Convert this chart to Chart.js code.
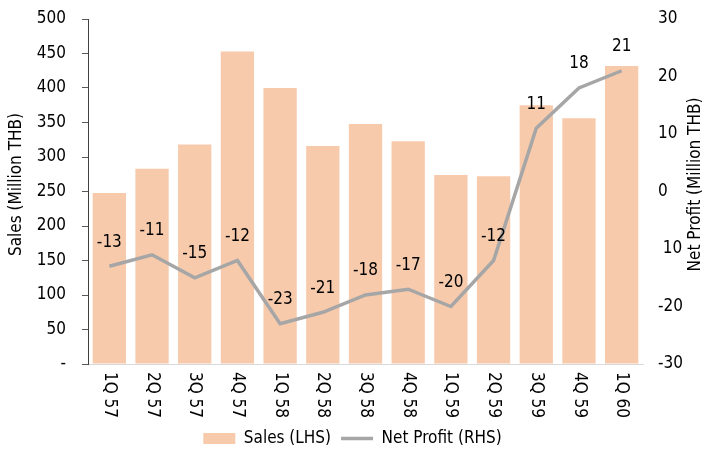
<!DOCTYPE html>
<html>
<head>
<meta charset="utf-8">
<script src="https://cdn.jsdelivr.net/npm/chart.js@4/dist/chart.umd.min.js"></script>
<style>
  html, body { margin: 0; padding: 0; background: #fff; }
  #wrap { width: 705px; height: 461px; }
</style>
</head>
<body>
<div id="wrap"><canvas id="chart"></canvas></div>
<script>
const quarters = ['1Q 57', '2Q 57', '3Q 57', '4Q 57', '1Q 58', '2Q 58', '3Q 58', '4Q 58', '1Q 59', '2Q 59', '3Q 59', '4Q 59', '1Q 60'];
const sales = [248, 283, 318, 453, 400, 316, 348, 323, 274, 272, 375, 356, 432];
const netProfit = [-13, -11, -15, -12, -23, -21, -18, -17, -20, -12, 11, 18, 21];
const salesTicks = [0, 50, 100, 150, 200, 250, 300, 350, 400, 450, 500];
const profitTicks = [-30, -20, -10, 0, 10, 20, 30];
const profitTickText = ['-30', '-20', ' 10', '0', '10', '20', '30'];

const fontFamily = '"DejaVu Sans Condensed", "DejaVu Sans", sans-serif';
const fontSize = 17;
Chart.defaults.font.family = fontFamily;
Chart.defaults.font.size = fontSize;
Chart.defaults.color = '#000';

// x labels and the axis titles are drawn by hand: chart.js rotates them the other way
const extraText = {
    id: 'extraText',
    afterDraw(chart) {
        const ctx = chart.ctx;
        const x = chart.scales.x;
        const area = chart.chartArea;
        ctx.save();
        ctx.font = fontSize + 'px ' + fontFamily;
        ctx.fillStyle = '#000';
        ctx.textAlign = 'left';
        ctx.textBaseline = 'middle';
        quarters.forEach((q, i) => {
            ctx.save();
            ctx.translate(x.getPixelForTick(i), x.top + 8);
            ctx.rotate(Math.PI / 2);
            ctx.fillText(q, 0, 0);
            ctx.restore();
        });

        const midY = (area.top + area.bottom) / 2 - 7;
        ctx.textAlign = 'center';
        ctx.save();
        ctx.translate(17, midY);
        ctx.rotate(-Math.PI / 2);
        ctx.fillText('Sales (Million THB)', 0, 0);
        ctx.restore();
        ctx.save();
        ctx.translate(chart.width - 9, midY);
        ctx.rotate(-Math.PI / 2);
        ctx.fillText('Net Profit (Million THB)', 0, 0);
        ctx.restore();
        ctx.restore();
    }
};

const profitLabels = {
    id: 'profitLabels',
    afterDatasetsDraw(chart) {
        const ctx = chart.ctx;
        const meta = chart.getDatasetMeta(1);
        ctx.save();
        ctx.font = fontSize + 'px ' + fontFamily;
        ctx.fillStyle = '#000';
        ctx.textAlign = 'center';
        ctx.textBaseline = 'middle';
        meta.data.forEach((pt, i) => {
            ctx.fillText(String(netProfit[i]), pt.x, pt.y - 24);
        });
        ctx.restore();
    }
};

// tick padding also pads the top of vertical axes, drop that
const fitSide = w => scale => {
    scale.width = w;
    scale.paddingTop = 0;
    scale.paddingBottom = 0;
};

new Chart(document.getElementById('chart'), {
    type: 'bar',
    data: {
        labels: quarters,
        datasets: [
            {
                type: 'bar',
                label: 'Sales (LHS)',
                data: sales,
                backgroundColor: '#F7CAAC',
                yAxisID: 'y',
                barPercentage: 0.78,
                categoryPercentage: 1,
                pointStyle: 'rect',
                order: 2
            },
            {
                type: 'line',
                label: 'Net Profit (RHS)',
                data: netProfit,
                borderColor: '#A6A6A6',
                backgroundColor: '#A6A6A6',
                borderWidth: 3.5,
                pointRadius: 0,
                tension: 0,
                yAxisID: 'y1',
                pointStyle: 'line',
                order: 1
            }
        ]
    },
    options: {
        responsive: true,
        maintainAspectRatio: false,
        animation: false,
        events: [],
        layout: { padding: { top: 19, bottom: 4, left: 0, right: 0 } },
        plugins: {
            tooltip: { enabled: false },
            legend: {
                position: 'bottom',
                labels: {
                    usePointStyle: true,
                    pointStyleWidth: 32,
                    boxHeight: 11,
                    padding: 10,
                    sort: (a, b) => a.datasetIndex - b.datasetIndex
                }
            }
        },
        scales: {
            x: {
                ticks: { display: false },
                grid: { display: false },
                border: { color: '#D9D9D9', width: 1 },
                afterFit(scale) { scale.height = 56; }
            },
            y: {
                position: 'left',
                min: 0,
                max: 500,
                afterBuildTicks(scale) { scale.ticks = salesTicks.map(v => ({ value: v })); },
                ticks: {
                    padding: 16,
                    callback: v => v === 0 ? '-' : v
                },
                grid: { drawOnChartArea: false, tickLength: 6, color: '#595959' },
                border: { color: '#404040', width: 1 },
                afterFit: fitSide(88)
            },
            y1: {
                position: 'right',
                min: -30,
                max: 30,
                afterBuildTicks(scale) { scale.ticks = profitTicks.map(v => ({ value: v })); },
                ticks: {
                    padding: 7,
                    callback: v => profitTickText[profitTicks.indexOf(v)]
                },
                grid: { display: false },
                border: { display: false },
                afterFit: fitSide(62)
            }
        }
    },
    plugins: [extraText, profitLabels]
});
</script>
</body>
</html>
